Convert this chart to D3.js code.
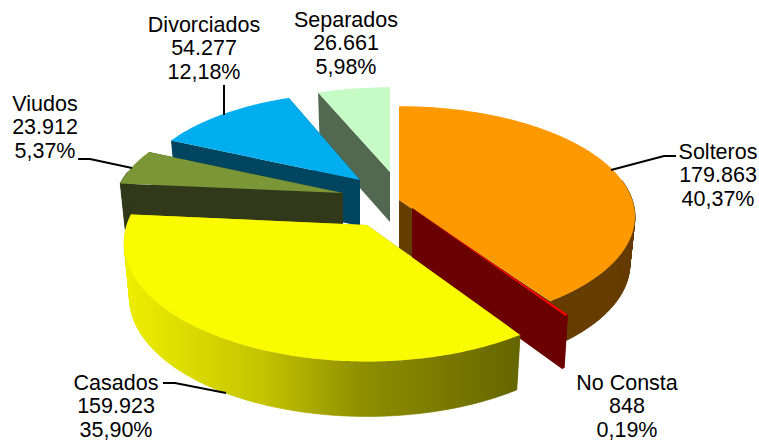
<!DOCTYPE html>
<html><head><meta charset="utf-8">
<style>html,body{margin:0;padding:0;background:#fff}svg{display:block}text{font-family:"Liberation Sans",Arial,sans-serif;font-size:21.5px;fill:#000}</style>
<script src="https://cdn.jsdelivr.net/npm/d3@7"></script></head><body>
<script>
const categories = ["Solteros","No Consta","Casados","Viudos","Divorciados","Separados"];
const values = [179863,848,159923,23912,54277,26661];
const faceColors = ["#FF9900","#FF0000","#FBFB00","#7A9637","#00AEEF","#C6FBC6"];
const wallColors = ["#663D00","#6B0000","url(#wallY)","#31391A","#00455F","#526850"];
const drawOrder = [5,4,3,0,1,2];
// exploded-slice placement: apex, horizontal / vertical scale, wall depth
const apexX = [399,412,367,343,360,390];
const apexY = [200,208,225,193,180,172];
const kx = [.972,1,1,.945,.92,.93];
const ky = [.93,.98,1,.9,.867,.84];
const depth = [48,53,55,46,46,50];
const labelX = [718,627,116,45,204,346];
const labelY = [159,390,390,111,32,27];
const leaders = [[[676,156],[664,156],[611,170]],null,[[163,383],[175,383],[226,393]],[[78,159],[90,159],[132,168]],[[224,85],[224,115]],null];

const W=759,H=441,RX=240,RY=116,P=.15,TAPER=.978;
const svg=d3.select("body").append("svg").attr("width",W).attr("height",H);
const grad=svg.append("defs").append("linearGradient").attr("id","wallY")
  .attr("gradientUnits","userSpaceOnUse").attr("x1",124).attr("x2",518).attr("y1",0).attr("y2",0);
[[0,"#EFEF00"],[.35,"#C4C400"],[.6,"#8F8F00"],[1,"#666600"]].forEach(s=>grad.append("stop").attr("offset",s[0]).attr("stop-color",s[1]));

const arcs=d3.pie().sort(null).value(d=>d)(values);
const project=(i,a)=>{const u=Math.sin(a),v=-Math.cos(a),s=1/(1-P*v);
  return [RX*kx[i]*u*s,RY*ky[i]*v*s];};
const upper=(i,q)=>[apexX[i]+q[0],apexY[i]+q[1]];
const lower=(i,q)=>[apexX[i]+q[0]*TAPER,apexY[i]+q[1]+depth[i]];
const line=d3.line().curve(d3.curveLinear);
const loc=d3.formatLocale({decimal:",",thousands:".",grouping:[3],currency:["",""]});
const total=d3.sum(values);

drawOrder.forEach(i=>{
  const d=arcs[i],n=Math.max(2,Math.ceil((d.endAngle-d.startAngle)/.01));
  const angle=k=>d.startAngle+(d.endAngle-d.startAngle)*k/n;
  const rim=d3.range(n+1).map(k=>project(i,angle(k)));
  const g=svg.append("g");
  const wall=wallColors[i];
  [rim[0],rim[n]].forEach(q=>{
    g.append("path").attr("fill",wall)
     .attr("d",line([upper(i,[0,0]),upper(i,q),lower(i,q),lower(i,[0,0])])+"Z");
  });
  // front part of the rim only: quads keep the silhouette closed where the rim turns
  const front=d3.range(n).filter(k=>-Math.cos(angle(k))>-0.2);
  if(front.length) g.append("path").attr("fill",wall).attr("stroke",wall).attr("stroke-width",.6)
   .attr("d",front.map(k=>line([upper(i,rim[k]),upper(i,rim[k+1]),lower(i,rim[k+1]),lower(i,rim[k])])+"Z").join(""));
  g.append("path").attr("fill",faceColors[i])
   .attr("d",line([upper(i,[0,0])].concat(rim.map(q=>upper(i,q))))+"Z");
});

leaders.forEach(l=>{ if(l) svg.append("path").attr("fill","none").attr("stroke","#000").attr("stroke-width",2).attr("d",line(l)); });

categories.forEach((c,i)=>{
  const t=svg.append("text").attr("text-anchor","middle").attr("transform",`translate(${labelX[i]},${labelY[i]})`);
  [c,loc.format(",")(values[i]),loc.format(".2f")(values[i]/total*100)+"%"].forEach((s,k)=>
    t.append("tspan").attr("x",0).attr("y",k*23.4).text(s));
});
</script></body></html>
